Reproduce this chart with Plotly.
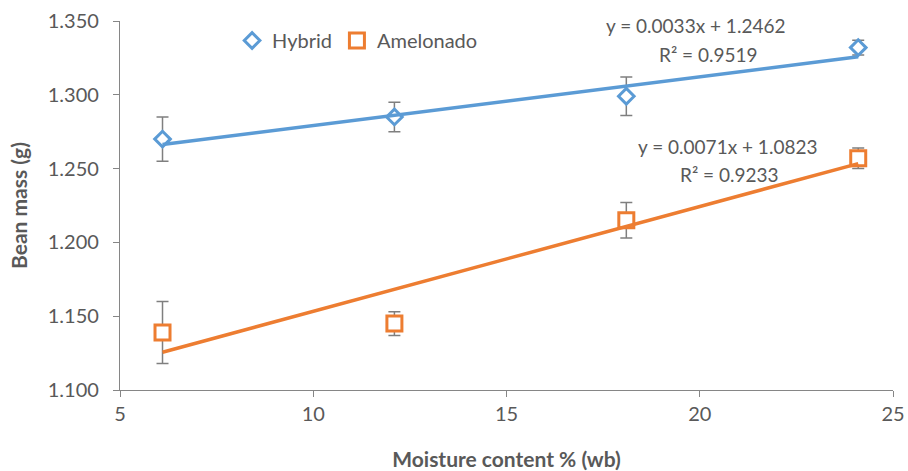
import plotly.graph_objects as go

# Moisture content levels (% wet basis)
moisture = [6.1, 12.1, 18.1, 24.1]

# Mean bean mass (g) and standard deviations
hybrid = [1.270, 1.285, 1.299, 1.332]
hybrid_err = [0.015, 0.010, 0.013, 0.005]
amelonado = [1.139, 1.145, 1.215, 1.257]
amelonado_err = [0.021, 0.008, 0.012, 0.007]

# Linear trend coefficients (slope, intercept, R²)
hybrid_fit = (0.0033, 1.2462, 0.9519)
amelonado_fit = (0.0071, 1.0823, 0.9233)

x_ticks = [5, 10, 15, 20, 25]
y_ticks = [1.100, 1.150, 1.200, 1.250, 1.300, 1.350]

BLUE = "#5B9BD5"
ORANGE = "#ED7D31"
GREY_TEXT = "#595959"
AXIS = "#868686"
FONT = "Lato"

fig = go.Figure()


def add_series(name, y, err, color, symbol, size):
    fig.add_trace(go.Scatter(
        x=moisture, y=y, mode="markers", name=name,
        marker=dict(symbol=symbol, size=size, color="white",
                    line=dict(color=color, width=3)),
        error_y=dict(type="data", array=err, visible=True,
                     color="#7F7F7F", thickness=1.5, width=6),
    ))


def add_trend(fit, color):
    slope, intercept, _ = fit
    xs = [moisture[0], moisture[-1]]
    ys = [slope * v + intercept for v in xs]
    fig.add_trace(go.Scatter(
        x=xs, y=ys, mode="lines", showlegend=False, hoverinfo="skip",
        line=dict(color=color, width=3.5),
    ))


add_series("Hybrid", hybrid, hybrid_err, BLUE, "diamond", 12)
add_series("Amelonado", amelonado, amelonado_err, ORANGE, "square", 15)
add_trend(hybrid_fit, BLUE)
add_trend(amelonado_fit, ORANGE)


def eq_text(fit):
    return f"y = {fit[0]:.4f}x + {fit[1]:.4f}"


labels = [
    (19.88, 1.3468, eq_text(hybrid_fit)),
    (20.23, 1.3276, f"R² = {hybrid_fit[2]:.4f}"),
    (20.72, 1.2648, eq_text(amelonado_fit)),
    (20.76, 1.2457, f"R² = {amelonado_fit[2]:.4f}"),
]
for lx, ly, txt in labels:
    fig.add_annotation(x=lx, y=ly, text=txt, showarrow=False,
                       xanchor="center", yanchor="middle",
                       font=dict(family=FONT, size=19, color=GREY_TEXT))

fig.update_layout(
    width=908, height=471,
    margin=dict(l=120, r=15, t=21, b=81, autoexpand=False),
    paper_bgcolor="white", plot_bgcolor="white",
    font=dict(family=FONT, size=20, color=GREY_TEXT),
    showlegend=True,
    legend=dict(orientation="h", x=0.145, y=1.0, xanchor="left", yanchor="top",
                bgcolor="rgba(0,0,0,0)", font=dict(family=FONT, size=20, color=GREY_TEXT),
                itemwidth=30, tracegroupgap=0),
    xaxis=dict(
        range=[5, 25], tickvals=x_ticks, ticktext=[str(v) for v in x_ticks],
        automargin=False,
        showgrid=False, zeroline=False, showline=True, linecolor=AXIS, linewidth=1.3,
        ticks="outside", ticklen=6, tickcolor=AXIS,
        tickfont=dict(family=FONT, size=20, color=GREY_TEXT),
        title=dict(text="<b>Moisture content % (wb)</b>", standoff=28,
                   font=dict(family=FONT, size=21, color=GREY_TEXT)),
    ),
    yaxis=dict(
        range=[1.1, 1.35], tickvals=y_ticks, ticktext=[f"{v:.3f}" for v in y_ticks],
        automargin=False, ticklabelstandoff=10,
        showgrid=False, zeroline=False, showline=True, linecolor=AXIS, linewidth=1.3,
        ticks="outside", ticklen=6, tickcolor=AXIS,
        tickfont=dict(family=FONT, size=20, color=GREY_TEXT),
        title=dict(text="<b>Bean mass (g)</b>", standoff=14,
                   font=dict(family=FONT, size=21, color=GREY_TEXT)),
    ),
)

fig.write_html("out.html")
